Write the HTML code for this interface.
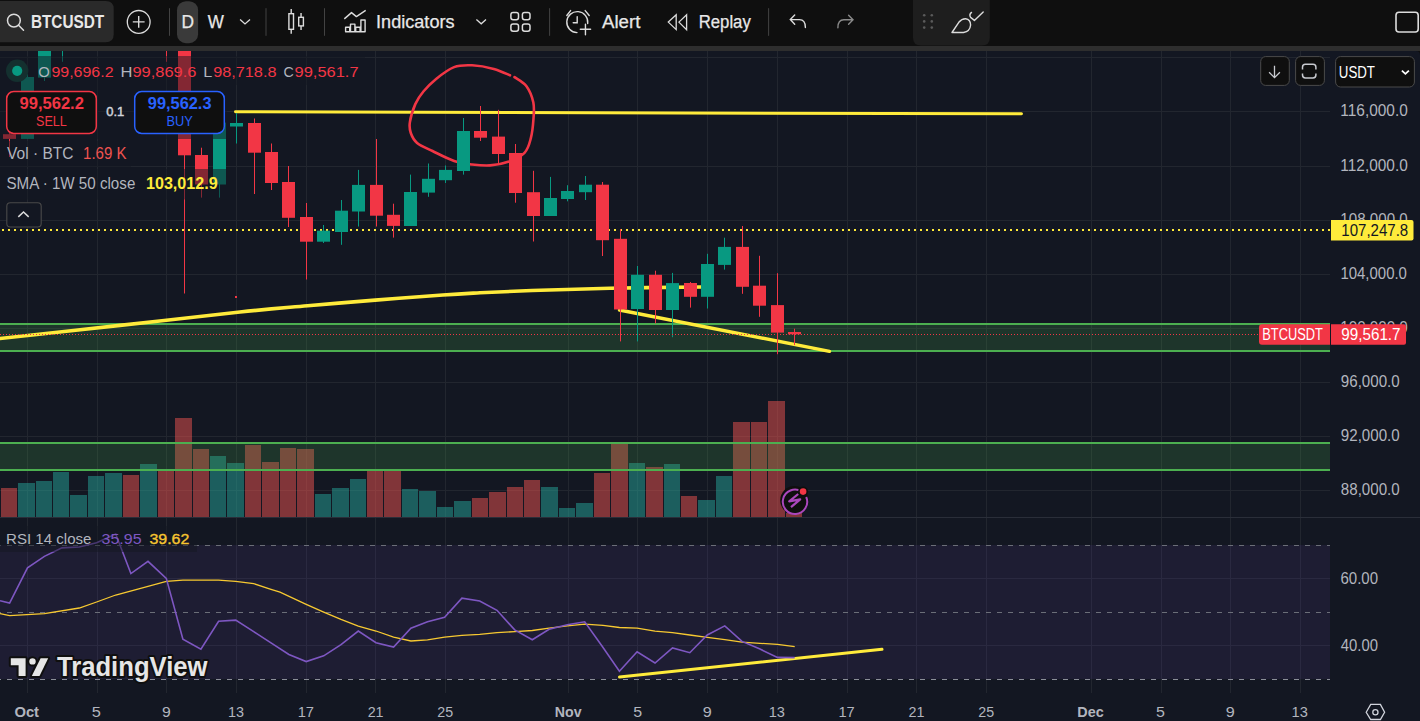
<!DOCTYPE html><html><head><meta charset="utf-8"><style>
html,body{margin:0;padding:0;background:#0f0f0f;width:1420px;height:721px;overflow:hidden}
svg{display:block}
text{font-family:"Liberation Sans", sans-serif}
</style></head><body>
<svg width="1420" height="721" viewBox="0 0 1420 721">
<defs><clipPath id="main"><rect x="0" y="51" width="1330" height="466"/></clipPath>
<clipPath id="rsi"><rect x="0" y="518" width="1330" height="176"/></clipPath></defs>
<rect x="0" y="0" width="1420" height="721" fill="#0f0f0f"/>
<rect x="0" y="46" width="1420" height="5" fill="#2e2e2e"/>
<path d="M0 51 H1416 Q1420 51 1420 55 V721 H0 Z" fill="#131722"/>

<line x1="27.5" y1="51" x2="27.5" y2="693" stroke="#22262f" stroke-width="1"/>
<line x1="97.5" y1="51" x2="97.5" y2="693" stroke="#22262f" stroke-width="1"/>
<line x1="166.5" y1="51" x2="166.5" y2="693" stroke="#22262f" stroke-width="1"/>
<line x1="236.5" y1="51" x2="236.5" y2="693" stroke="#22262f" stroke-width="1"/>
<line x1="306.5" y1="51" x2="306.5" y2="693" stroke="#22262f" stroke-width="1"/>
<line x1="375.5" y1="51" x2="375.5" y2="693" stroke="#22262f" stroke-width="1"/>
<line x1="445.5" y1="51" x2="445.5" y2="693" stroke="#22262f" stroke-width="1"/>
<line x1="568.5" y1="51" x2="568.5" y2="693" stroke="#22262f" stroke-width="1"/>
<line x1="637.5" y1="51" x2="637.5" y2="693" stroke="#22262f" stroke-width="1"/>
<line x1="707.5" y1="51" x2="707.5" y2="693" stroke="#22262f" stroke-width="1"/>
<line x1="777.5" y1="51" x2="777.5" y2="693" stroke="#22262f" stroke-width="1"/>
<line x1="847.5" y1="51" x2="847.5" y2="693" stroke="#22262f" stroke-width="1"/>
<line x1="916.5" y1="51" x2="916.5" y2="693" stroke="#22262f" stroke-width="1"/>
<line x1="986.5" y1="51" x2="986.5" y2="693" stroke="#22262f" stroke-width="1"/>
<line x1="1091.5" y1="51" x2="1091.5" y2="693" stroke="#22262f" stroke-width="1"/>
<line x1="1161.5" y1="51" x2="1161.5" y2="693" stroke="#22262f" stroke-width="1"/>
<line x1="1230.5" y1="51" x2="1230.5" y2="693" stroke="#22262f" stroke-width="1"/>
<line x1="1300.5" y1="51" x2="1300.5" y2="693" stroke="#22262f" stroke-width="1"/>
<line x1="0" y1="57.5" x2="1330" y2="57.5" stroke="#22262f" stroke-width="1"/>
<line x1="0" y1="111.5" x2="1330" y2="111.5" stroke="#22262f" stroke-width="1"/>
<line x1="0" y1="166.5" x2="1330" y2="166.5" stroke="#22262f" stroke-width="1"/>
<line x1="0" y1="220.5" x2="1330" y2="220.5" stroke="#22262f" stroke-width="1"/>
<line x1="0" y1="274.5" x2="1330" y2="274.5" stroke="#22262f" stroke-width="1"/>
<line x1="0" y1="328.5" x2="1330" y2="328.5" stroke="#22262f" stroke-width="1"/>
<line x1="0" y1="382.5" x2="1330" y2="382.5" stroke="#22262f" stroke-width="1"/>
<line x1="0" y1="436.5" x2="1330" y2="436.5" stroke="#22262f" stroke-width="1"/>
<line x1="0" y1="490.5" x2="1330" y2="490.5" stroke="#22262f" stroke-width="1"/>
<rect x="0" y="517" width="1420" height="1" fill="#2a2e39"/>
<rect x="0" y="545" width="1330" height="134" fill="#1e1d33"/>
<line x1="0" y1="578.5" x2="1330" y2="578.5" stroke="#2a2940" stroke-width="1"/>
<line x1="0" y1="645.5" x2="1330" y2="645.5" stroke="#2a2940" stroke-width="1"/>
<line x1="27.5" y1="545" x2="27.5" y2="679" stroke="#2a2940" stroke-width="1"/>
<line x1="97.5" y1="545" x2="97.5" y2="679" stroke="#2a2940" stroke-width="1"/>
<line x1="166.5" y1="545" x2="166.5" y2="679" stroke="#2a2940" stroke-width="1"/>
<line x1="236.5" y1="545" x2="236.5" y2="679" stroke="#2a2940" stroke-width="1"/>
<line x1="306.5" y1="545" x2="306.5" y2="679" stroke="#2a2940" stroke-width="1"/>
<line x1="375.5" y1="545" x2="375.5" y2="679" stroke="#2a2940" stroke-width="1"/>
<line x1="445.5" y1="545" x2="445.5" y2="679" stroke="#2a2940" stroke-width="1"/>
<line x1="568.5" y1="545" x2="568.5" y2="679" stroke="#2a2940" stroke-width="1"/>
<line x1="637.5" y1="545" x2="637.5" y2="679" stroke="#2a2940" stroke-width="1"/>
<line x1="707.5" y1="545" x2="707.5" y2="679" stroke="#2a2940" stroke-width="1"/>
<line x1="777.5" y1="545" x2="777.5" y2="679" stroke="#2a2940" stroke-width="1"/>
<line x1="847.5" y1="545" x2="847.5" y2="679" stroke="#2a2940" stroke-width="1"/>
<line x1="916.5" y1="545" x2="916.5" y2="679" stroke="#2a2940" stroke-width="1"/>
<line x1="986.5" y1="545" x2="986.5" y2="679" stroke="#2a2940" stroke-width="1"/>
<line x1="1091.5" y1="545" x2="1091.5" y2="679" stroke="#2a2940" stroke-width="1"/>
<line x1="1161.5" y1="545" x2="1161.5" y2="679" stroke="#2a2940" stroke-width="1"/>
<line x1="1230.5" y1="545" x2="1230.5" y2="679" stroke="#2a2940" stroke-width="1"/>
<line x1="1300.5" y1="545" x2="1300.5" y2="679" stroke="#2a2940" stroke-width="1"/>
<line x1="0" y1="545.5" x2="1330" y2="545.5" stroke="#6b6e78" stroke-width="1" stroke-dasharray="5 6" stroke-dashoffset="4"/>
<line x1="0" y1="612.5" x2="1330" y2="612.5" stroke="#6b6e78" stroke-width="1" stroke-dasharray="5 6" stroke-dashoffset="4"/>
<line x1="0" y1="679.5" x2="1330" y2="679.5" stroke="#8b8e98" stroke-width="1" stroke-dasharray="5 6" stroke-dashoffset="4"/>
<g clip-path="url(#main)">
<rect x="1" y="488" width="16" height="29" fill="rgba(239,83,80,0.5)"/>
<rect x="18" y="483" width="17" height="34" fill="rgba(38,166,154,0.5)"/>
<rect x="36" y="481" width="16" height="36" fill="rgba(38,166,154,0.5)"/>
<rect x="53" y="472" width="16" height="45" fill="rgba(38,166,154,0.5)"/>
<rect x="70" y="495" width="17" height="22" fill="rgba(38,166,154,0.5)"/>
<rect x="88" y="476" width="16" height="41" fill="rgba(38,166,154,0.5)"/>
<rect x="105" y="473" width="17" height="44" fill="rgba(38,166,154,0.5)"/>
<rect x="123" y="475" width="16" height="42" fill="rgba(239,83,80,0.5)"/>
<rect x="140" y="464" width="17" height="53" fill="rgba(38,166,154,0.5)"/>
<rect x="158" y="470" width="16" height="47" fill="rgba(239,83,80,0.5)"/>
<rect x="175" y="418" width="17" height="99" fill="rgba(239,83,80,0.5)"/>
<rect x="193" y="449" width="16" height="68" fill="rgba(239,83,80,0.5)"/>
<rect x="210" y="456" width="16" height="61" fill="rgba(38,166,154,0.5)"/>
<rect x="227" y="463" width="17" height="54" fill="rgba(38,166,154,0.5)"/>
<rect x="245" y="445" width="16" height="72" fill="rgba(239,83,80,0.5)"/>
<rect x="262" y="462" width="17" height="55" fill="rgba(239,83,80,0.5)"/>
<rect x="280" y="448" width="16" height="69" fill="rgba(239,83,80,0.5)"/>
<rect x="297" y="449" width="17" height="68" fill="rgba(239,83,80,0.5)"/>
<rect x="315" y="494" width="16" height="23" fill="rgba(38,166,154,0.5)"/>
<rect x="332" y="488" width="17" height="29" fill="rgba(38,166,154,0.5)"/>
<rect x="350" y="479" width="16" height="38" fill="rgba(38,166,154,0.5)"/>
<rect x="367" y="470" width="16" height="47" fill="rgba(239,83,80,0.5)"/>
<rect x="384" y="470" width="17" height="47" fill="rgba(239,83,80,0.5)"/>
<rect x="402" y="489" width="16" height="28" fill="rgba(38,166,154,0.5)"/>
<rect x="419" y="491" width="17" height="26" fill="rgba(38,166,154,0.5)"/>
<rect x="437" y="507" width="16" height="10" fill="rgba(38,166,154,0.5)"/>
<rect x="454" y="501" width="17" height="16" fill="rgba(38,166,154,0.5)"/>
<rect x="472" y="498" width="16" height="19" fill="rgba(239,83,80,0.5)"/>
<rect x="489" y="492" width="17" height="25" fill="rgba(239,83,80,0.5)"/>
<rect x="507" y="487" width="16" height="30" fill="rgba(239,83,80,0.5)"/>
<rect x="524" y="480" width="16" height="37" fill="rgba(239,83,80,0.5)"/>
<rect x="541" y="487" width="17" height="30" fill="rgba(38,166,154,0.5)"/>
<rect x="559" y="508" width="16" height="9" fill="rgba(38,166,154,0.5)"/>
<rect x="576" y="503" width="17" height="14" fill="rgba(38,166,154,0.5)"/>
<rect x="594" y="473" width="16" height="44" fill="rgba(239,83,80,0.5)"/>
<rect x="611" y="443.5" width="17" height="73.5" fill="rgba(239,83,80,0.5)"/>
<rect x="629" y="463" width="16" height="54" fill="rgba(38,166,154,0.5)"/>
<rect x="646" y="467" width="17" height="50" fill="rgba(239,83,80,0.5)"/>
<rect x="664" y="464" width="16" height="53" fill="rgba(38,166,154,0.5)"/>
<rect x="681" y="496" width="16" height="21" fill="rgba(239,83,80,0.5)"/>
<rect x="698" y="500" width="17" height="17" fill="rgba(38,166,154,0.5)"/>
<rect x="716" y="476" width="16" height="41" fill="rgba(38,166,154,0.5)"/>
<rect x="733" y="422" width="17" height="95" fill="rgba(239,83,80,0.5)"/>
<rect x="751" y="422" width="16" height="95" fill="rgba(239,83,80,0.5)"/>
<rect x="768" y="401" width="17" height="116" fill="rgba(239,83,80,0.5)"/>
<rect x="786" y="513" width="16" height="4" fill="rgba(239,83,80,0.5)"/>
</g>
<rect x="0" y="324" width="1330" height="27" fill="rgba(76,175,80,0.2)"/>
<rect x="0" y="323" width="1330" height="2" fill="#4caf50"/>
<rect x="0" y="350" width="1330" height="2" fill="#4caf50"/>
<rect x="0" y="443" width="1330" height="27" fill="rgba(76,175,80,0.2)"/>
<rect x="0" y="442" width="1330" height="2" fill="#4caf50"/>
<rect x="0" y="469" width="1330" height="2" fill="#4caf50"/>
<line x1="0" y1="230" x2="1330" y2="230" stroke="#ffeb3b" stroke-width="2" stroke-dasharray="2 4" stroke-dashoffset="-2"/>
<g clip-path="url(#main)">
<line x1="235.5" y1="111.8" x2="1021.5" y2="113.8" stroke="#ffeb3b" stroke-width="3" stroke-linecap="round"/>
<line x1="619.5" y1="310" x2="829.5" y2="351.3" stroke="#ffeb3b" stroke-width="3.4" stroke-linecap="round"/>
<path d="M510.0 75.3 C507.3 74.2 500.1 70.6 493.8 68.9 C487.5 67.2 478.7 65.6 472.1 65.3 C465.5 65.0 460.1 64.8 454.1 67.1 C448.1 69.4 441.2 74.8 436.1 78.9 C431.0 83.0 426.9 87.3 423.4 91.5 C419.9 95.7 417.6 99.0 415.3 104.1 C413.1 109.2 410.6 117.3 409.9 122.1 C409.1 126.9 409.6 129.5 410.8 133.0 C412.0 136.5 413.5 139.9 417.1 142.9 C420.7 145.9 426.3 148.0 432.5 151.0 C438.7 154.0 447.5 158.7 454.1 160.9 C460.7 163.2 466.1 163.8 472.1 164.5 C478.1 165.2 484.2 165.8 490.2 165.4 C496.2 165.0 502.5 163.9 508.2 161.8 C513.9 159.7 520.7 156.7 524.5 152.8 C528.3 148.9 529.3 144.1 530.8 138.4 C532.3 132.7 533.1 124.5 533.5 118.5 C533.9 112.5 534.5 107.7 533.3 102.3 C532.1 96.9 529.4 90.3 526.3 86.1 C523.2 81.9 516.5 78.6 514.5 77.1" fill="none" stroke="#f23645" stroke-width="2.6" stroke-linecap="round" stroke-linejoin="round"/>
<rect x="235" y="296" width="2" height="2" fill="#f23645"/>
</g>
<g clip-path="url(#main)">
<path d="M-5.0 339.0 C-4.2 338.9 -20.8 340.8 0.0 338.5 C20.8 336.2 80.0 329.8 120.0 325.4 C160.0 321.0 208.7 315.3 240.0 312.0 C271.3 308.7 285.1 307.8 307.6 305.8 C330.1 303.8 352.7 301.9 375.2 300.1 C397.7 298.3 425.3 296.2 442.8 295.0 C460.3 293.8 465.1 293.6 480.0 292.8 C494.9 292.1 510.3 291.3 532.0 290.5 C553.7 289.7 581.8 288.8 610.0 288.2 C638.2 287.6 685.8 287.2 701.0 287.0" fill="none" stroke="#ffeb3b" stroke-width="3.6"/>
<rect x="9" y="130" width="1" height="27" fill="#f23645"/>
<rect x="3" y="134.2" width="13" height="4.700000000000017" fill="#f23645"/>
<rect x="27" y="74" width="1" height="64.9" fill="#089981"/>
<rect x="21" y="77" width="13" height="61.900000000000006" fill="#089981"/>
<rect x="44" y="15" width="1" height="66" fill="#089981"/>
<rect x="38" y="20" width="13" height="57.599999999999994" fill="#089981"/>
<rect x="62" y="20" width="1" height="41.8" fill="#089981"/>
<rect x="56" y="20" width="13" height="20" fill="#089981"/>
<rect x="166" y="20" width="1" height="41.8" fill="#f23645"/>
<rect x="160" y="20" width="13" height="20" fill="#f23645"/>
<rect x="184" y="20" width="1" height="273.5" fill="#f23645"/>
<rect x="178" y="30" width="13" height="125.30000000000001" fill="#f23645"/>
<rect x="201" y="147.7" width="1" height="49.900000000000006" fill="#f23645"/>
<rect x="195" y="155" width="13" height="29.5" fill="#f23645"/>
<rect x="219" y="112" width="1" height="85.6" fill="#089981"/>
<rect x="213" y="122.6" width="13" height="61.900000000000006" fill="#089981"/>
<rect x="236" y="113" width="1" height="30.5" fill="#089981"/>
<rect x="230" y="123" width="13" height="3.5" fill="#089981"/>
<rect x="254" y="118.5" width="1" height="75.5" fill="#f23645"/>
<rect x="248" y="123" width="13" height="29.69999999999999" fill="#f23645"/>
<rect x="271" y="143.5" width="1" height="46.5" fill="#f23645"/>
<rect x="265" y="152" width="13" height="31" fill="#f23645"/>
<rect x="288" y="166" width="1" height="61" fill="#f23645"/>
<rect x="282" y="182" width="13" height="35.80000000000001" fill="#f23645"/>
<rect x="306" y="203" width="1" height="76.5" fill="#f23645"/>
<rect x="300" y="217" width="13" height="24.69999999999999" fill="#f23645"/>
<rect x="323" y="225" width="1" height="18" fill="#089981"/>
<rect x="317" y="230.7" width="13" height="11.0" fill="#089981"/>
<rect x="341" y="200" width="1" height="44.80000000000001" fill="#089981"/>
<rect x="335" y="210.7" width="13" height="21.30000000000001" fill="#089981"/>
<rect x="358" y="169.9" width="1" height="56.599999999999994" fill="#089981"/>
<rect x="352" y="184.9" width="13" height="26.599999999999994" fill="#089981"/>
<rect x="376" y="139" width="1" height="87.5" fill="#f23645"/>
<rect x="370" y="184.9" width="13" height="30.799999999999983" fill="#f23645"/>
<rect x="393" y="203.7" width="1" height="33.900000000000006" fill="#f23645"/>
<rect x="387" y="214.8" width="13" height="11.099999999999994" fill="#f23645"/>
<rect x="410" y="174.6" width="1" height="51.400000000000006" fill="#089981"/>
<rect x="404" y="192" width="13" height="34" fill="#089981"/>
<rect x="428" y="163.5" width="1" height="33.30000000000001" fill="#089981"/>
<rect x="422" y="178.8" width="13" height="13.799999999999983" fill="#089981"/>
<rect x="445" y="165.5" width="1" height="17.5" fill="#089981"/>
<rect x="439" y="169.9" width="13" height="10.299999999999983" fill="#089981"/>
<rect x="463" y="118" width="1" height="56.599999999999994" fill="#089981"/>
<rect x="457" y="131" width="13" height="40" fill="#089981"/>
<rect x="480" y="106" width="1" height="35" fill="#f23645"/>
<rect x="474" y="131" width="13" height="6.699999999999989" fill="#f23645"/>
<rect x="498" y="109.8" width="1" height="53.2" fill="#f23645"/>
<rect x="492" y="136.6" width="13" height="17.400000000000006" fill="#f23645"/>
<rect x="515" y="144" width="1" height="58.69999999999999" fill="#f23645"/>
<rect x="509" y="153" width="13" height="40" fill="#f23645"/>
<rect x="533" y="170.8" width="1" height="70.69999999999999" fill="#f23645"/>
<rect x="527" y="192.2" width="13" height="23.80000000000001" fill="#f23645"/>
<rect x="550" y="176.9" width="1" height="39.099999999999994" fill="#089981"/>
<rect x="544" y="198" width="13" height="18" fill="#089981"/>
<rect x="567" y="185.2" width="1" height="16.100000000000023" fill="#089981"/>
<rect x="561" y="191" width="13" height="8" fill="#089981"/>
<rect x="585" y="176" width="1" height="24" fill="#089981"/>
<rect x="579" y="184.7" width="13" height="7.5" fill="#089981"/>
<rect x="602" y="182" width="1" height="74" fill="#f23645"/>
<rect x="596" y="184.7" width="13" height="55.5" fill="#f23645"/>
<rect x="620" y="229" width="1" height="112.39999999999998" fill="#f23645"/>
<rect x="614" y="238.8" width="13" height="70.69999999999999" fill="#f23645"/>
<rect x="637" y="266" width="1" height="75.39999999999998" fill="#089981"/>
<rect x="631" y="274.8" width="13" height="34.19999999999999" fill="#089981"/>
<rect x="655" y="270.7" width="1" height="52.69999999999999" fill="#f23645"/>
<rect x="649" y="274.8" width="13" height="35.19999999999999" fill="#f23645"/>
<rect x="672" y="272.9" width="1" height="64.30000000000001" fill="#089981"/>
<rect x="666" y="283.1" width="13" height="26.899999999999977" fill="#089981"/>
<rect x="690" y="282" width="1" height="25.600000000000023" fill="#f23645"/>
<rect x="684" y="283" width="13" height="13.800000000000011" fill="#f23645"/>
<rect x="707" y="253.8" width="1" height="54.69999999999999" fill="#089981"/>
<rect x="701" y="264" width="13" height="32.80000000000001" fill="#089981"/>
<rect x="724" y="237.7" width="1" height="31.900000000000034" fill="#089981"/>
<rect x="718" y="246.9" width="13" height="17.99999999999997" fill="#089981"/>
<rect x="742" y="226" width="1" height="67.80000000000001" fill="#f23645"/>
<rect x="736" y="246.9" width="13" height="39.900000000000006" fill="#f23645"/>
<rect x="759" y="255.8" width="1" height="61.0" fill="#f23645"/>
<rect x="753" y="285.7" width="13" height="20.0" fill="#f23645"/>
<rect x="777" y="273.2" width="1" height="81.0" fill="#f23645"/>
<rect x="771" y="305.1" width="13" height="27.5" fill="#f23645"/>
<rect x="794" y="328.7" width="1" height="16.400000000000034" fill="#f23645"/>
<rect x="788" y="332" width="13" height="2.3000000000000114" fill="#f23645"/>
</g>
<line x1="0" y1="334.5" x2="1258" y2="334.5" stroke="#f23645" stroke-width="1" stroke-dasharray="1 2"/>
<g clip-path="url(#rsi)">
<polyline points="0,613.6 9.6,615.6 44.4,613.6 79.3,608 96.6,602 115.7,595 148,586.4 166.3,581.3 182.9,580.1 218.6,580.1 235.7,581.3 253.7,583.6 271,589.3 280,592.1 306.2,604.3 323.7,612.1 341,619.4 358.3,626.1 376,631 393.6,637.2 410.9,641 427.5,639.8 444.6,637.2 461.9,635.4 479.7,634.3 497,632.7 514.7,631.6 532.3,630.5 549.1,628.1 567.3,625.9 584.7,624.2 603,625.4 619.4,627.5 637.1,628.2 655,631.1 672.5,632.6 689.8,635 707.3,637.3 724.8,639.7 742,642.1 760,643.3 777.4,644.3 794.7,646.7" fill="none" stroke="#f7c931" stroke-width="1.3"/>
<line x1="619.5" y1="677" x2="882" y2="649.3" stroke="#ffeb3b" stroke-width="3" stroke-linecap="round"/>
<polyline points="0,600.7 9.6,603 27.5,567.9 44.4,556.4 62,547.9 79.3,547 96.6,542.7 115.7,534 130.9,573.6 148,561.3 166.3,578.4 182.9,639.3 200.9,649.3 218.6,621.3 235.7,620.1 253.7,631.7 271,642.8 288.9,654.5 306.2,661.6 323.7,655.8 341,644.7 358.3,631 376,642.7 393.6,647 410.9,628.3 427.5,621.7 444.6,617.2 461.9,598.1 479.7,601 497,610.3 514.7,629.9 532.3,639.8 549.1,629.2 567.3,624.8 584.7,621.8 602,646 619.4,671.3 637.1,651.7 655,663 672.5,647.9 689.8,652.7 707.3,635 724.8,625.9 742,641.4 760,649.1 777.4,657.4 794.7,657.6" fill="none" stroke="#7e57c2" stroke-width="1.6"/>
</g>
<rect x="0" y="56" width="227" height="83" fill="rgba(19,23,34,0.5)"/>
<rect x="227" y="56" width="138" height="29" fill="rgba(19,23,34,0.5)"/>
<rect x="0" y="141" width="131" height="26" fill="rgba(19,23,34,0.5)"/>
<rect x="0" y="169" width="227" height="30.5" fill="rgba(19,23,34,0.5)"/>
<rect x="0" y="526" width="197" height="26" fill="rgba(19,23,34,0.5)"/>
<circle cx="17.2" cy="70.8" r="11.2" fill="#14302f"/>
<circle cx="17.2" cy="70.8" r="5.1" fill="#089981"/>
<text x="38.35" y="76.9" font-size="15.42" fill="#b2b5be" textLength="11.54" lengthAdjust="spacingAndGlyphs">O</text>
<text x="51.40" y="76.9" font-size="15.42" fill="#f23645" textLength="62.18" lengthAdjust="spacingAndGlyphs">99,696.2</text>
<text x="120.56" y="76.9" font-size="15.42" fill="#b2b5be" textLength="11.94" lengthAdjust="spacingAndGlyphs">H</text>
<text x="132.48" y="76.9" font-size="15.42" fill="#f23645" textLength="64.02" lengthAdjust="spacingAndGlyphs">99,869.6</text>
<text x="203.28" y="76.9" font-size="15.42" fill="#b2b5be" textLength="9.02" lengthAdjust="spacingAndGlyphs">L</text>
<text x="213.19" y="76.9" font-size="15.42" fill="#f23645" textLength="63.30" lengthAdjust="spacingAndGlyphs">98,718.8</text>
<text x="283.49" y="76.9" font-size="15.42" fill="#b2b5be" textLength="10.30" lengthAdjust="spacingAndGlyphs">C</text>
<text x="294.58" y="76.9" font-size="15.42" fill="#f23645" textLength="64.02" lengthAdjust="spacingAndGlyphs">99,561.7</text>
<rect x="6.7" y="91.6" width="89.6" height="41.8" rx="7" fill="#0f0f0f" stroke="#f23645" stroke-width="1.5"/>
<rect x="134.7" y="91.6" width="89.6" height="41.8" rx="7" fill="#0f0f0f" stroke="#2962ff" stroke-width="1.5"/>
<text x="19.48" y="108.9" font-size="16.0" font-weight="bold" fill="#f23645" textLength="64.42" lengthAdjust="spacingAndGlyphs">99,562.2</text>
<text x="36.05" y="126.1" font-size="14.4" fill="#f23645" textLength="30.78" lengthAdjust="spacingAndGlyphs">SELL</text>
<text x="106.21" y="116" font-size="12.95" fill="#d1d4dc" textLength="18.07" lengthAdjust="spacingAndGlyphs" stroke="#d1d4dc" stroke-width="0.45">0.1</text>
<text x="147.79" y="108.9" font-size="16.0" font-weight="bold" fill="#2962ff" textLength="63.71" lengthAdjust="spacingAndGlyphs">99,562.3</text>
<text x="166.56" y="125.8" font-size="14.4" fill="#2962ff" textLength="26.36" lengthAdjust="spacingAndGlyphs">BUY</text>
<text x="7.00" y="159" font-size="16.29" fill="#b2b5be" textLength="66.44" lengthAdjust="spacingAndGlyphs">Vol · BTC</text>
<text x="83.07" y="159" font-size="16.29" fill="#ef5350" textLength="43.37" lengthAdjust="spacingAndGlyphs">1.69 K</text>
<text x="6.44" y="189" font-size="16.0" fill="#b2b5be" textLength="128.87" lengthAdjust="spacingAndGlyphs">SMA · 1W 50 close</text>
<text x="145.99" y="188.8" font-size="16.0" font-weight="bold" fill="#ffeb3b" textLength="71.69" lengthAdjust="spacingAndGlyphs">103,012.9</text>
<rect x="6.8" y="202.8" width="34.4" height="24.2" rx="3.5" fill="#131722" stroke="#4a4a4a" stroke-width="1.1"/>
<polyline points="18.3,216.9 23.5,212 28.7,216.9" fill="none" stroke="#dcdcdc" stroke-width="1.5"/>
<text x="6.08" y="543.6" font-size="15.13" fill="#b2b5be" textLength="85.39" lengthAdjust="spacingAndGlyphs">RSI 14 close</text>
<text x="101.50" y="543.6" font-size="15.13" fill="#7e57c2" textLength="40.04" lengthAdjust="spacingAndGlyphs">35.95</text>
<text x="149.40" y="543.6" font-size="15.13" fill="#f7c531" textLength="39.94" lengthAdjust="spacingAndGlyphs" stroke="#f7c531" stroke-width="0.35">39.62</text>
<text x="1340.34" y="116.0" font-size="16.15" fill="#b2b5be" textLength="67.43" lengthAdjust="spacingAndGlyphs">116,000.0</text>
<text x="1340.34" y="170.5" font-size="16.15" fill="#b2b5be" textLength="67.43" lengthAdjust="spacingAndGlyphs">112,000.0</text>
<text x="1340.36" y="224.5" font-size="16.15" fill="#b2b5be" textLength="67.38" lengthAdjust="spacingAndGlyphs">108,000.0</text>
<text x="1340.38" y="278.5" font-size="16.15" fill="#b2b5be" textLength="66.56" lengthAdjust="spacingAndGlyphs">104,000.0</text>
<text x="1340.36" y="332.5" font-size="16.15" fill="#b2b5be" textLength="67.38" lengthAdjust="spacingAndGlyphs">100,000.0</text>
<text x="1340.84" y="386.5" font-size="16.15" fill="#b2b5be" textLength="58.91" lengthAdjust="spacingAndGlyphs">96,000.0</text>
<text x="1340.84" y="440.5" font-size="16.15" fill="#b2b5be" textLength="58.91" lengthAdjust="spacingAndGlyphs">92,000.0</text>
<text x="1340.84" y="494.5" font-size="16.15" fill="#b2b5be" textLength="58.91" lengthAdjust="spacingAndGlyphs">88,000.0</text>
<text x="1340.45" y="584.1" font-size="16.29" fill="#b2b5be" textLength="37.55" lengthAdjust="spacingAndGlyphs">60.00</text>
<text x="1340.83" y="650.9" font-size="16.29" fill="#b2b5be" textLength="37.16" lengthAdjust="spacingAndGlyphs">40.00</text>
<path d="M1331 220 H1411.5 Q1413.5 220 1413.5 222 V238.6 Q1413.5 240.6 1411.5 240.6 H1331 Z" fill="#ffeb3b"/>
<text x="1341.37" y="235.5" font-size="16.15" fill="#131722" textLength="66.87" lengthAdjust="spacingAndGlyphs">107,247.8</text>
<path d="M1262 324.3 H1330 V344.7 H1262 Q1259 344.7 1259 341.7 V327.3 Q1259 324.3 1262 324.3 Z" fill="#f23645"/>
<path d="M1331 324.3 H1404 Q1406 324.3 1406 326.3 V342.7 Q1406 344.7 1404 344.7 H1331 Z" fill="#f23645"/>
<text x="1262.26" y="339.8" font-size="16.15" fill="#ffffff" textLength="60.63" lengthAdjust="spacingAndGlyphs">BTCUSDT</text>
<text x="1341.33" y="339.8" font-size="16.15" fill="#ffffff" textLength="59.21" lengthAdjust="spacingAndGlyphs">99,561.7</text>
<text x="14.45" y="717" font-size="15.42" font-weight="bold" fill="#b2b5be" textLength="24.60" lengthAdjust="spacingAndGlyphs">Oct</text>
<text x="91.88" y="717" font-size="15.42" fill="#b2b5be" textLength="9.13" lengthAdjust="spacingAndGlyphs">5</text>
<text x="161.91" y="717" font-size="15.42" fill="#b2b5be" textLength="8.78" lengthAdjust="spacingAndGlyphs">9</text>
<text x="228.12" y="717" font-size="15.42" fill="#b2b5be" textLength="16.01" lengthAdjust="spacingAndGlyphs">13</text>
<text x="297.65" y="717" font-size="15.42" fill="#b2b5be" textLength="16.33" lengthAdjust="spacingAndGlyphs">17</text>
<text x="367.63" y="717" font-size="15.42" fill="#b2b5be" textLength="15.93" lengthAdjust="spacingAndGlyphs">21</text>
<text x="437.34" y="717" font-size="15.42" fill="#b2b5be" textLength="15.83" lengthAdjust="spacingAndGlyphs">25</text>
<text x="633.30" y="717" font-size="15.42" fill="#b2b5be" textLength="8.90" lengthAdjust="spacingAndGlyphs">5</text>
<text x="702.89" y="717" font-size="15.42" fill="#b2b5be" textLength="9.02" lengthAdjust="spacingAndGlyphs">9</text>
<text x="768.76" y="717" font-size="15.42" fill="#b2b5be" textLength="16.23" lengthAdjust="spacingAndGlyphs">13</text>
<text x="838.45" y="717" font-size="15.42" fill="#b2b5be" textLength="16.33" lengthAdjust="spacingAndGlyphs">17</text>
<text x="908.53" y="717" font-size="15.42" fill="#b2b5be" textLength="15.93" lengthAdjust="spacingAndGlyphs">21</text>
<text x="978.24" y="717" font-size="15.42" fill="#b2b5be" textLength="15.83" lengthAdjust="spacingAndGlyphs">25</text>
<text x="1156.10" y="717" font-size="15.42" fill="#b2b5be" textLength="8.90" lengthAdjust="spacingAndGlyphs">5</text>
<text x="1225.69" y="717" font-size="15.42" fill="#b2b5be" textLength="9.02" lengthAdjust="spacingAndGlyphs">9</text>
<text x="1291.56" y="717" font-size="15.42" fill="#b2b5be" textLength="16.23" lengthAdjust="spacingAndGlyphs">13</text>
<text x="554.78" y="717" font-size="15.42" font-weight="bold" fill="#b2b5be" textLength="26.79" lengthAdjust="spacingAndGlyphs">Nov</text>
<text x="1077.31" y="717" font-size="15.42" font-weight="bold" fill="#b2b5be" textLength="26.40" lengthAdjust="spacingAndGlyphs">Dec</text>
<path d="M1366.2 712.3 L1370.7 704.4 H1380.4 L1384.6 712.3 L1380.4 719.5 H1370.7 Z" fill="none" stroke="#d1d4dc" stroke-width="1.3"/>
<circle cx="1375.4" cy="712.3" r="2.6" fill="none" stroke="#d1d4dc" stroke-width="1.3"/>
<g stroke="#0f0f0f" stroke-width="4" stroke-linejoin="round" paint-order="stroke" fill="#e6e6e6">
<path d="M10.8 658.2 H25.6 V676 H18.6 V665.2 H10.8 Z"/>
<circle cx="32.5" cy="661.4" r="3.2"/>
<path d="M40.6 658.2 H48.2 L39.5 676 H31.8 Z"/>
<text x="56.98" y="676" font-size="27.05" font-weight="bold" fill="#e6e6e6" textLength="150.55" lengthAdjust="spacingAndGlyphs" stroke="#0f0f0f" stroke-width="4" paint-order="stroke">TradingView</text>
</g>
<circle cx="794.4" cy="500.3" r="14.2" fill="#0f0f0f"/>
<path d="M 801.5 491.5 A 12.2 12.2 0 1 0 806.2 497" fill="none" stroke="#ab47bc" stroke-width="2"/>
<circle cx="803.1" cy="491.6" r="5" fill="#0f0f0f"/>
<circle cx="803.1" cy="491.6" r="3.3" fill="#f23645"/>
<polyline points="798.2,494 789.2,501.4 800.2,499.3 791,507.2" fill="none" stroke="#ab47bc" stroke-width="2.2" stroke-linejoin="round" stroke-linecap="butt"/>
<rect x="1260.7" y="56.6" width="28.6" height="28.8" rx="5" fill="#0f0f0f" stroke="#4a4a4a" stroke-width="1"/>
<path d="M1274.5 65.8 V77.3 M1269.1 72.3 L1274.5 77.6 L1279.9 72.3" fill="none" stroke="#c8cad0" stroke-width="1.3"/>
<rect x="1295.6" y="56.6" width="28.8" height="28.8" rx="5" fill="#0f0f0f" stroke="#4a4a4a" stroke-width="1"/>
<path d="M1302.5 69.5 V67.2 Q1302.5 64.3 1305.4 64.3 H1313 Q1315.9 64.3 1315.9 67.2 V69.5 M1302.5 73.4 V75.1 Q1302.5 78 1305.4 78 H1313 Q1315.9 78 1315.9 75.1 V73.4" fill="none" stroke="#c8cad0" stroke-width="1.5"/>
<rect x="1335.6" y="56.6" width="78.8" height="30.4" rx="5" fill="#0f0f0f" stroke="#4a4a4a" stroke-width="1"/>
<text x="1338.80" y="78" font-size="16.15" fill="#ffffff" textLength="36.19" lengthAdjust="spacingAndGlyphs">USDT</text>
<polyline points="1401.9,70.6 1405.4,73.8 1408.9,70.6" fill="none" stroke="#ffffff" stroke-width="1.8"/>
<path d="M-10 0.9 H105.7 Q113.7 0.9 113.7 8.9 V34.3 Q113.7 42.3 105.7 42.3 H-10 Z" fill="#2a2a2a"/>
<circle cx="13.9" cy="20.6" r="6.4" fill="none" stroke="#dcdcdc" stroke-width="1.5"/>
<line x1="18.6" y1="25.3" x2="23.5" y2="30.2" stroke="#dcdcdc" stroke-width="1.5" stroke-linecap="round"/>
<text x="30.90" y="27.8" font-size="18.62" font-weight="bold" fill="#e8e8e8" textLength="73.24" lengthAdjust="spacingAndGlyphs">BTCUSDT</text>
<circle cx="138.7" cy="21.9" r="11.4" fill="none" stroke="#dcdcdc" stroke-width="1.3"/>
<path d="M132.8 21.9 H144.6 M138.7 16.1 V27.7" stroke="#dcdcdc" stroke-width="1.4"/>
<rect x="169.0" y="8.2" width="1" height="27.6" fill="#434343"/>
<rect x="265.5" y="8.2" width="1" height="27.6" fill="#434343"/>
<rect x="324.0" y="8.2" width="1" height="27.6" fill="#434343"/>
<rect x="549.1" y="8.2" width="1" height="27.6" fill="#434343"/>
<rect x="768.1" y="8.2" width="1" height="27.6" fill="#434343"/>
<rect x="177" y="1.2" width="21.1" height="42" rx="9" fill="#3a3a3a"/>
<text x="181.49" y="27.8" font-size="18.62" fill="#e8e8e8" textLength="12.53" lengthAdjust="spacingAndGlyphs" stroke="#e8e8e8" stroke-width="0.25">D</text>
<text x="207.69" y="27.8" font-size="18.62" fill="#e8e8e8" textLength="16.12" lengthAdjust="spacingAndGlyphs" stroke="#e8e8e8" stroke-width="0.25">W</text>
<polyline points="240.1,19.4 245,23.9 250,19.4" fill="none" stroke="#dcdcdc" stroke-width="1.3"/>
<g fill="none" stroke="#dcdcdc" stroke-width="1.4">
<rect x="288.9" y="13.7" width="4.6" height="15.6"/><path d="M291.2 9.1 V13.7 M291.2 29.3 V33.8"/>
<rect x="298.7" y="17.3" width="4.7" height="8.6"/><path d="M301.05 12.9 V17.3 M301.05 25.9 V30"/>
</g>
<g fill="none" stroke="#dcdcdc" stroke-width="1.4" stroke-linejoin="round">
<polyline points="344.3,18.9 351.5,12.6 356.4,16.6 365.7,10.4"/>
<path d="M345.6 31.7 V27.3 H349.7 V31.7 Z M350.5 31.7 V24.1 H354.9 V31.7 Z M355.7 31.7 V27.3 H360.1 V31.7 Z M360.9 31.7 V20 H365.1 V31.7 Z"/>
</g>
<text x="376.10" y="27.5" font-size="17.45" fill="#e8e8e8" textLength="78.44" lengthAdjust="spacingAndGlyphs" stroke="#e8e8e8" stroke-width="0.25">Indicators</text>
<polyline points="476.4,19.6 481.2,23.8 486,19.6" fill="none" stroke="#dcdcdc" stroke-width="1.3"/>
<g fill="none" stroke="#dcdcdc" stroke-width="1.5">
<rect x="510.9" y="12.4" width="7.6" height="7.4" rx="2.2"/>
<rect x="522.4" y="12.4" width="7.6" height="7.4" rx="2.2"/>
<rect x="510.9" y="23.9" width="7.6" height="7.4" rx="2.2"/>
<rect x="522.4" y="23.9" width="7.6" height="7.4" rx="2.2"/>
</g>
<g fill="none" stroke="#dcdcdc" stroke-width="1.4" stroke-linecap="round">
<path d="M 577 32.6 A 10.5 10.5 0 1 1 587.7 23.5"/>
<path d="M577.2 16.6 V22.8 H573.2"/>
<path d="M566.8 15.5 L570.6 10.6 M585.2 10.6 L589.2 15.5"/>
<path d="M580.3 29.2 H590.6 M585.45 24.1 V34.8"/>
</g>
<text x="602.00" y="27.5" font-size="17.6" fill="#e8e8e8" textLength="38.41" lengthAdjust="spacingAndGlyphs" stroke="#e8e8e8" stroke-width="0.25">Alert</text>
<g fill="none" stroke="#dcdcdc" stroke-width="1.3" stroke-linejoin="miter">
<path d="M668.3 22.1 L676.2 14.8 V29.6 Z M678.9 22.1 L686.6 14.8 V29.6 Z"/>
</g>
<text x="698.74" y="27.5" font-size="17.6" fill="#e8e8e8" textLength="52.06" lengthAdjust="spacingAndGlyphs" stroke="#e8e8e8" stroke-width="0.25">Replay</text>
<path d="M794.7 15.1 L790.3 19.6 L794.7 24.2 M790.6 19.6 H799.5 Q805.4 19.6 805.4 27.5" fill="none" stroke="#dcdcdc" stroke-width="1.4" stroke-linecap="round"/>
<path d="M848.6 15.3 L853 19.8 L848.6 24.3 M852.7 19.8 H843.8 Q837.9 19.8 837.9 27.7" fill="none" stroke="#8a8a8a" stroke-width="1.4" stroke-linecap="round"/>
<path d="M913 0 H989.8 V37.6 Q989.8 45.6 981.8 45.6 H921 Q913 45.6 913 37.6 Z" fill="#1e1e1e"/>
<circle cx="924.2" cy="15.3" r="1.3" fill="#5a5a5a"/>
<circle cx="924.2" cy="21.4" r="1.3" fill="#5a5a5a"/>
<circle cx="924.2" cy="27.6" r="1.3" fill="#5a5a5a"/>
<circle cx="931.8" cy="15.3" r="1.3" fill="#5a5a5a"/>
<circle cx="931.8" cy="21.4" r="1.3" fill="#5a5a5a"/>
<circle cx="931.8" cy="27.6" r="1.3" fill="#5a5a5a"/>
<g fill="none" stroke="#dcdcdc" stroke-width="1.4" stroke-linejoin="round" stroke-linecap="round">
<path d="M952 32.5 L958.8 22.3 Q961.8 18.6 965.6 18.7 Q970.6 19.4 970.6 25 Q970 31.5 963.5 32.5 Z"/>
<path d="M971.5 12.4 Q968.8 14.5 970.6 17.4 L974.4 20.4 L983.2 12"/>
</g>
<rect x="1396" y="12.2" width="22.2" height="19.8" rx="3" fill="none" stroke="#dcdcdc" stroke-width="1.6"/>
</svg></body></html>
